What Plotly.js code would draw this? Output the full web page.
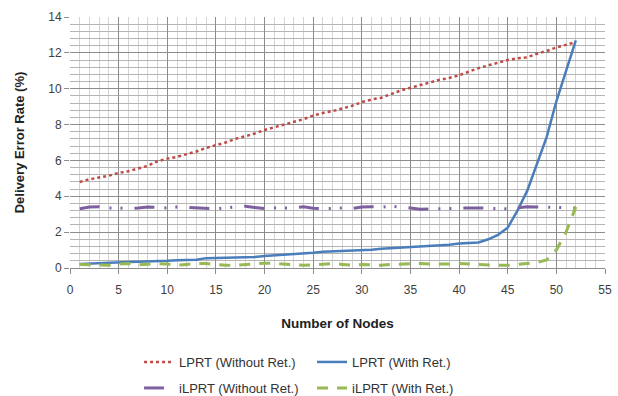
<!DOCTYPE html>
<html>
<head>
<meta charset="utf-8">
<script src="https://cdn.plot.ly/plotly-3.0.1.min.js"></script>
<style>html,body{margin:0;padding:0;background:#fff;}#chart{width:618px;height:396px;}</style>
</head>
<body>
<div id="chart"></div>
<script>
const nodes = Array.from({length: 52}, (_, i) => i + 1);
const lprtWithout = [4.8,4.95,5.05,5.15,5.3,5.4,5.55,5.7,5.95,6.1,6.2,6.35,6.5,6.7,6.85,7.0,7.2,7.35,7.5,7.7,7.85,8.0,8.15,8.3,8.5,8.65,8.75,8.9,9.05,9.25,9.4,9.5,9.7,9.9,10.05,10.2,10.35,10.5,10.6,10.75,10.95,11.15,11.3,11.45,11.6,11.7,11.75,11.95,12.1,12.3,12.45,12.6];
const lprtWith = [0.22,0.25,0.27,0.3,0.32,0.33,0.35,0.36,0.38,0.4,0.43,0.45,0.46,0.55,0.56,0.57,0.6,0.61,0.62,0.67,0.7,0.72,0.75,0.78,0.85,0.9,0.92,0.95,0.97,1.0,1.02,1.07,1.1,1.13,1.15,1.17,1.2,1.25,1.3,1.37,1.4,1.42,1.6,1.85,2.25,3.2,4.3,5.8,7.3,9.3,11.0,12.7];
const ilprtWithout = [3.3,3.4,3.42,3.35,3.35,3.32,3.35,3.4,3.38,3.35,3.4,3.38,3.33,3.3,3.3,3.35,3.4,3.45,3.38,3.32,3.35,3.33,3.35,3.42,3.33,3.3,3.32,3.35,3.32,3.4,3.42,3.38,3.45,3.42,3.35,3.28,3.3,3.32,3.35,3.35,3.35,3.35,3.32,3.3,3.3,3.35,3.42,3.4,3.38,3.35,3.35,3.35];
const ilprtWith = [0.2,0.18,0.2,0.15,0.22,0.25,0.18,0.2,0.25,0.22,0.15,0.2,0.25,0.25,0.2,0.15,0.15,0.18,0.2,0.27,0.25,0.22,0.15,0.15,0.18,0.22,0.25,0.2,0.15,0.2,0.18,0.15,0.2,0.22,0.25,0.25,0.22,0.2,0.22,0.25,0.22,0.2,0.18,0.15,0.15,0.2,0.22,0.3,0.45,1.0,2.0,3.4];
const seriesNames = ['LPRT (Without Ret.)','LPRT (With Ret.)','iLPRT (Without Ret.)','iLPRT (With Ret.)'];

const font = 'Liberation Sans, Arial, sans-serif';
const traces = [
  {x: nodes, y: lprtWithout, name: seriesNames[0], mode: 'lines', legend: 'legend',
   line: {color: '#BE4B48', width: 2.5, dash: 'dot'}},
  {x: nodes, y: lprtWith, name: seriesNames[1], mode: 'lines', legend: 'legend',
   line: {color: '#4A7EBB', width: 2.5}},
  {x: nodes, y: ilprtWithout, name: seriesNames[2], mode: 'lines', legend: 'legend2',
   line: {color: '#7D60A0', width: 3, dash: '20px,10px,2px,9px,2px,12px'}},
  {x: nodes, y: ilprtWith, name: seriesNames[3], mode: 'lines', legend: 'legend2',
   line: {color: '#98B954', width: 3, dash: '11px,9px'}}
];

const legendBase = {orientation: 'h', xanchor: 'left', yanchor: 'middle',
  xref: 'container', yref: 'container',
  font: {family: font, size: 13, color: '#333'}, bgcolor: 'rgba(0,0,0,0)',
  entrywidth: 128, entrywidthmode: 'pixels'};

const layout = {
  width: 618, height: 396,
  margin: {l: 70, r: 13, t: 17, b: 128, autoexpand: false},
  paper_bgcolor: '#fff', plot_bgcolor: '#fff',
  font: {family: font, size: 12, color: '#404040'},
  xaxis: {
    range: [0, 55], dtick: 5, tick0: 0, automargin: false,
    showgrid: true, gridcolor: '#8c8c8c', gridwidth: 1,
    minor: {dtick: 1, showgrid: true, gridcolor: '#d4d4d4', gridwidth: 1},
    ticks: 'outside', ticklen: 5, tickcolor: '#8c8c8c', ticklabelstandoff: 6,
    showline: true, linecolor: '#8c8c8c', zeroline: false,
    tickfont: {family: font, size: 12, color: '#404040'},
    title: {text: '<b>Number of Nodes</b>', font: {family: font, size: 13.5, color: '#222'}, standoff: 22}
  },
  yaxis: {
    range: [0, 14], dtick: 2, tick0: 0, automargin: false,
    showgrid: true, gridcolor: '#8c8c8c', gridwidth: 1,
    minor: {dtick: 0.4, showgrid: true, gridcolor: '#b5b5b5', gridwidth: 1},
    ticks: 'outside', ticklen: 5, tickcolor: '#8c8c8c',
    showline: false, zeroline: false,
    tickfont: {family: font, size: 12, color: '#404040'},
    title: {text: '<b>Delivery Error Rate (%)</b>', font: {family: font, size: 13, color: '#222'}, standoff: 20}
  },
  legend: Object.assign({}, legendBase, {x: 0.225, y: 1 - 362/396}),
  legend2: Object.assign({}, legendBase, {x: 0.225, y: 1 - 388/396}),
  showlegend: true
};

Plotly.newPlot('chart', traces, layout, {displayModeBar: false, staticPlot: true});
</script>
</body>
</html>
